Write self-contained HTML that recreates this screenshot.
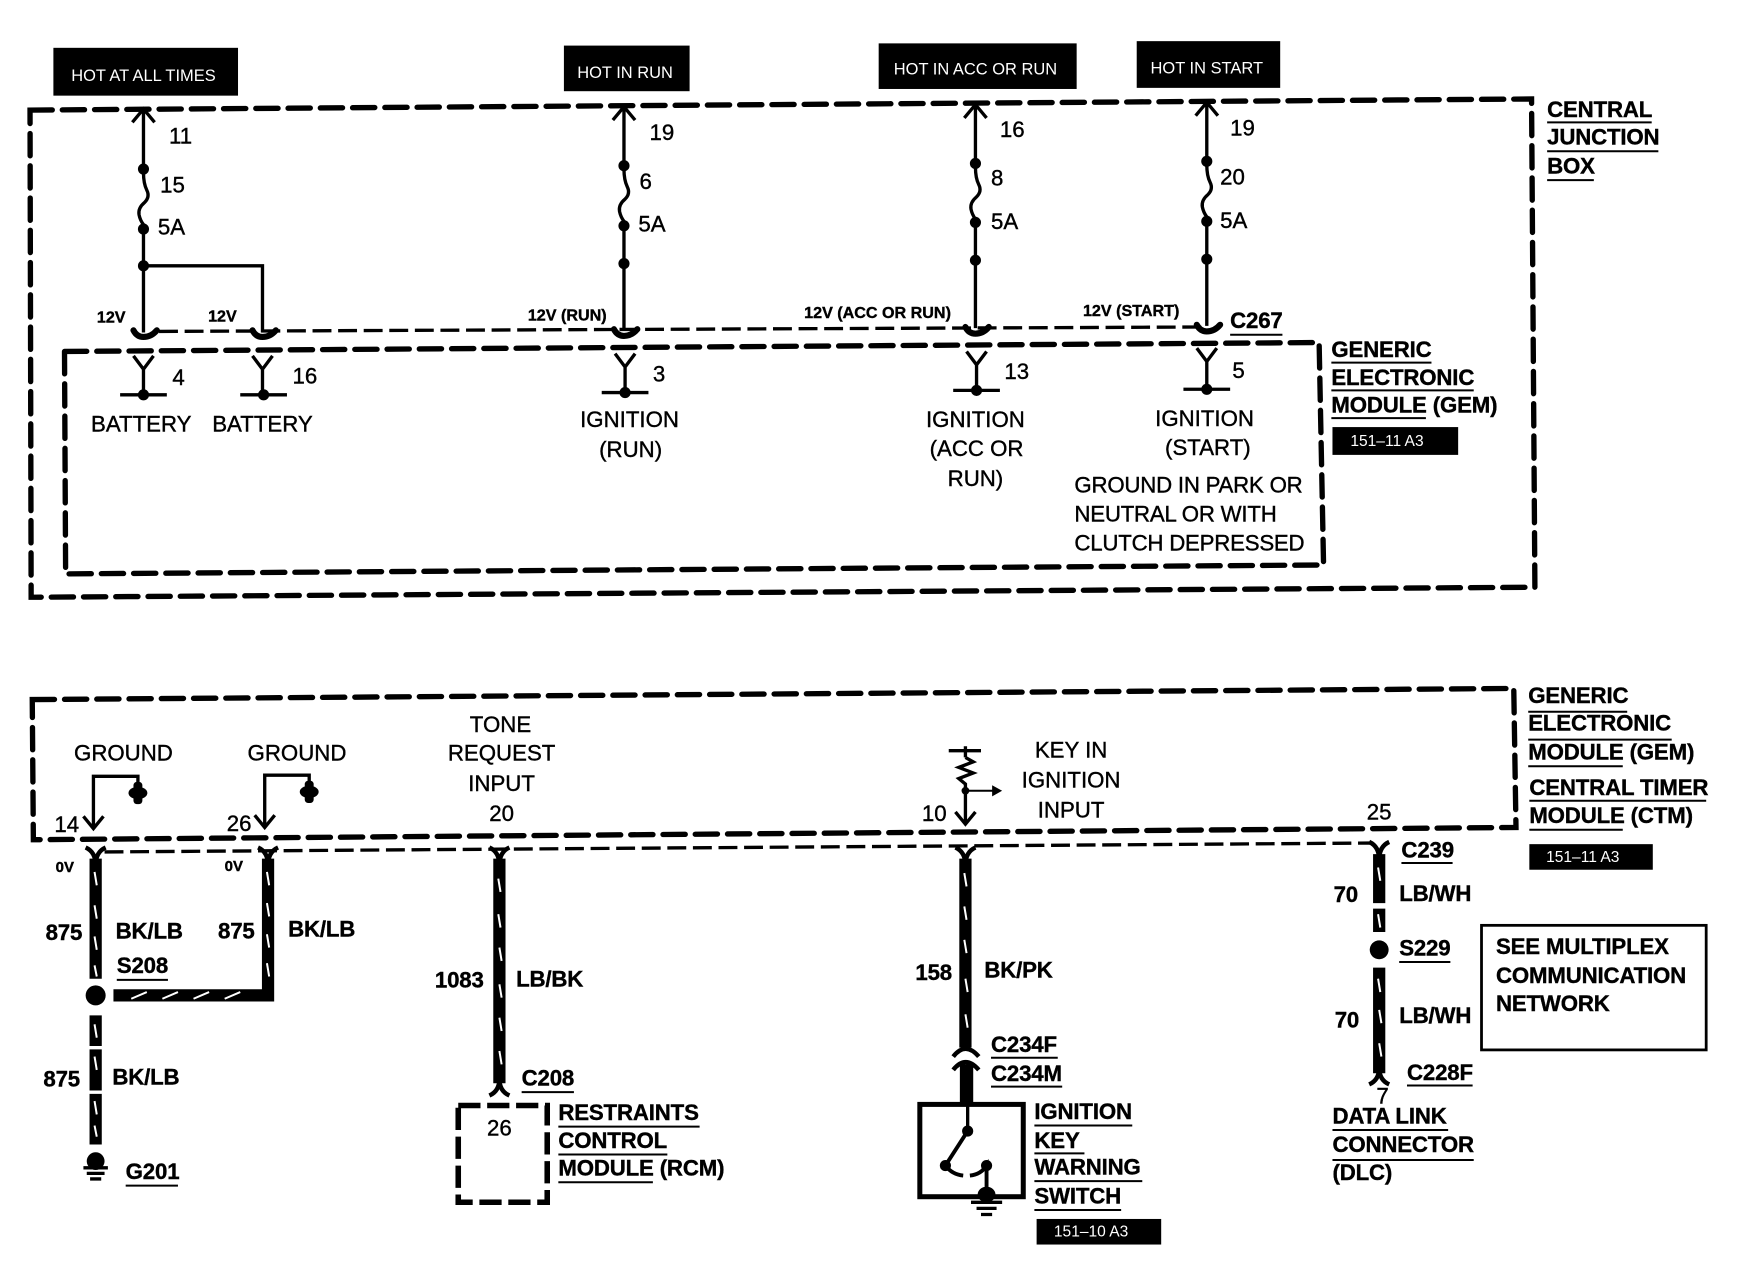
<!DOCTYPE html>
<html><head><meta charset="utf-8"><style>
html,body{margin:0;padding:0;background:#fff}
svg{display:block}
text{font-family:"Liberation Sans",sans-serif;font-size:20px;fill:#000;stroke:#000;stroke-width:.35}
.c{text-anchor:middle}
.b{font-weight:bold;letter-spacing:-.15px}
.s{font-weight:bold;font-size:14.5px;text-anchor:middle}
.w{fill:#fff;stroke:none;font-size:14.8px;text-anchor:middle}
.d{fill:none;stroke:#000;stroke-width:4.8;stroke-dasharray:20 9;stroke-linecap:round}
.t{fill:none;stroke:#000;stroke-width:3;stroke-dasharray:17 6}
.l{fill:none;stroke:#000;stroke-width:3}
.u{fill:none;stroke:#000;stroke-width:1.8}
.k{fill:none;stroke:#000;stroke-width:11}
.h{fill:none;stroke:#fff;stroke-width:1.8}
.f{fill:none;stroke:#000;stroke-width:4}
.p{fill:none;stroke:#000;stroke-width:5.5;stroke-linecap:round}
</style></head><body>
<svg xmlns="http://www.w3.org/2000/svg" width="1744" height="1264" viewBox="0 0 1568 1136.5" preserveAspectRatio="none">
<rect width="1568" height="1137" fill="#fff"/>

<!-- Black header labels -->
<rect x="48" y="43" width="166" height="43"/><text class="w" x="129" y="73">HOT AT ALL TIMES</text>
<rect x="507" y="41" width="113" height="41"/><text class="w" x="562" y="70">HOT IN RUN</text>
<rect x="790" y="39" width="178" height="41"/><text class="w" x="877" y="67">HOT IN ACC OR RUN</text>
<rect x="1022" y="37" width="129" height="42"/><text class="w" x="1085" y="66">HOT IN START</text>

<!-- Central junction box -->
<path class="d" d="M27 99 L1377 89 L1380 528 L28 537 Z"/>
<!-- GEM box -->
<path class="d" d="M58 316 L1186 308 L1190 508 L59 516 Z"/>
<!-- 12V thin dashed -->
<path class="t" d="M143 298 L1085 294"/>

<!-- Column 1 -->
<path class="l" d="M129 98 V299 M119 110 L129 98 L139 110"/>
<path class="l" d="M129 239 H236 V299"/>
<g fill="#000"><circle cx="129" cy="152" r="5"/><circle cx="129" cy="206" r="5"/><circle cx="129" cy="239" r="5"/></g>
<path fill="#fff" stroke="#fff" stroke-width="4" d="M129 157 V201"/>
<path class="l" d="M129 155 Q129 165 132 171 Q135 177 130 182 Q124 187 125 193 Q126 198 129 202"/>
<path class="p" d="M120 297 Q123 303 129 303 Q136 303 141 297 M227 297 Q230 303 236 303 Q243 303 248 297"/>
<path class="l" d="M120 320 L129 332 L138 320 M129 332 V355 M108 355 H150 M227 320 L236 332 L245 320 M236 332 V355 M216 355 H258"/>
<circle cx="129" cy="355" r="5"/><circle cx="237" cy="355" r="5"/>
<text x="152" y="129">11</text><text x="144" y="173">15</text><text x="142" y="211">5A</text>
<text class="s" x="100" y="290">12V</text><text class="s" x="200" y="289">12V</text>
<text x="155" y="346">4</text><text x="263" y="345">16</text>
<text class="c" x="127" y="388">BATTERY</text><text class="c" x="236" y="388">BATTERY</text>

<!-- Column 2 -->
<path class="l" d="M561 96 V297 M551 108 L561 96 L571 108"/>
<g fill="#000"><circle cx="561" cy="149" r="5"/><circle cx="561" cy="203" r="5"/><circle cx="561" cy="237" r="5"/></g>
<path fill="#fff" stroke="#fff" stroke-width="4" d="M561 154 V198"/>
<path class="l" d="M561 152 Q561 162 564 168 Q567 174 562 179 Q556 184 557 190 Q558 195 561 199"/>
<path class="p" d="M552 296 Q555 302 561 302 Q568 302 573 296"/>
<path class="l" d="M553 318 L562 330 L571 318 M562 330 V352 M541 353 H583"/><circle cx="562" cy="353" r="5"/>
<text x="584" y="126">19</text><text x="575" y="170">6</text><text x="574" y="208">5A</text>
<text class="s" x="510" y="288">12V (RUN)</text>
<text x="587" y="343">3</text>
<text class="c" x="566" y="384">IGNITION</text><text class="c" x="567" y="411">(RUN)</text>

<!-- Column 3 -->
<path class="l" d="M877 94 V295 M867 106 L877 94 L887 106"/>
<g fill="#000"><circle cx="877" cy="147" r="5"/><circle cx="877" cy="200" r="5"/><circle cx="877" cy="234" r="5"/></g>
<path fill="#fff" stroke="#fff" stroke-width="4" d="M877 152 V195"/>
<path class="l" d="M877 150 Q877 160 880 166 Q883 172 878 177 Q872 182 873 188 Q874 193 877 197"/>
<path class="p" d="M868 294 Q871 300 877 300 Q884 300 889 294"/>
<path class="l" d="M869 316 L878 328 L887 316 M878 328 V351 M857 351 H899"/><circle cx="878" cy="351" r="5"/>
<text x="899" y="123">16</text><text x="891" y="167">8</text><text x="891" y="206">5A</text>
<text class="s" x="789" y="286">12V (ACC OR RUN)</text>
<text x="903" y="341">13</text>
<text class="c" x="877" y="384">IGNITION</text><text class="c" x="878" y="410">(ACC OR</text><text class="c" x="877" y="437">RUN)</text>

<!-- Column 4 -->
<path class="l" d="M1085 92 V293 M1075 104 L1085 92 L1095 104"/>
<g fill="#000"><circle cx="1085" cy="145" r="5"/><circle cx="1085" cy="199" r="5"/><circle cx="1085" cy="233" r="5"/></g>
<path fill="#fff" stroke="#fff" stroke-width="4" d="M1085 150 V194"/>
<path class="l" d="M1085 148 Q1085 158 1088 164 Q1091 170 1086 175 Q1080 180 1081 186 Q1082 191 1085 195"/>
<path class="p" d="M1076 292 Q1079 298 1085 298 Q1092 298 1097 292"/>
<path class="l" d="M1076 313 L1085 325 L1094 313 M1085 325 V350 M1064 350 H1106"/><circle cx="1085" cy="350" r="5"/>
<text x="1106" y="122">19</text><text x="1097" y="166">20</text><text x="1097" y="205">5A</text>
<text class="s" x="1017" y="284">12V (START)</text>
<text class="b" x="1106" y="295">C267</text><path class="u" d="M1106 301 H1153"/>
<text x="1108" y="340">5</text>
<text class="c" x="1083" y="383">IGNITION</text><text class="c" x="1086" y="409">(START)</text>
<g style="letter-spacing:-.2px"><text x="966" y="443">GROUND IN PARK OR</text><text x="966" y="469">NEUTRAL OR WITH</text><text x="966" y="495">CLUTCH DEPRESSED</text></g>

<!-- Right labels top -->
<text class="b" x="1391" y="105">CENTRAL</text><path class="u" d="M1391 110 H1485"/>
<text class="b" x="1391" y="130">JUNCTION</text><path class="u" d="M1391 136 H1491"/>
<text class="b" x="1391" y="156">BOX</text><path class="u" d="M1391 162 H1433"/>
<text class="b" x="1197" y="321">GENERIC</text><path class="u" d="M1197 326 H1287"/>
<text class="b" x="1197" y="346">ELECTRONIC</text><path class="u" d="M1197 351 H1325"/>
<text class="b" x="1197" y="371">MODULE (GEM)</text><path class="u" d="M1197 376 H1282"/>
<rect x="1198" y="384" width="113" height="25"/><text class="w" x="1247" y="401" style="font-size:14px">151–11 A3</text>

<!-- Bottom GEM box -->
<path class="d" d="M29 629 L1361 619 L1363 744 L30 755 Z"/>
<path class="t" d="M94 766 L1232 758"/>

<!-- Ground brackets -->
<text class="c" x="111" y="684">GROUND</text><text class="c" x="267" y="684">GROUND</text>
<path class="l" d="M84 744 V698 H124 V708 M238 743 V697 H278 V707 M75 734 L84 745 L93 734 M229 733 L238 744 L247 733"/>
<rect x="120" y="703" width="8" height="20" rx="3"/><ellipse cx="124" cy="713" rx="8.5" ry="5.5"/>
<rect x="274" y="702" width="8" height="20" rx="3"/><ellipse cx="278" cy="712" rx="8.5" ry="5.5"/>
<text class="c" x="60" y="748">14</text><text class="c" x="215" y="747">26</text>
<text class="c" x="450" y="658">TONE</text><text class="c" x="451" y="684">REQUEST</text><text class="c" x="451" y="711">INPUT</text><text class="c" x="451" y="738">20</text>

<!-- Key in symbol -->
<path class="l" d="M853 675 H882 M868 671 V681 M868 681 L875 685 L862 690 L875 695 L862 700 L868 705 V740 M859 730 L868 741 L877 730"/>
<path class="u" d="M868 711 H896"/><path d="M892 706 L901 711 L892 716 Z"/><circle cx="868" cy="711" r="3.5"/>
<text class="c" x="963" y="681">KEY IN</text><text class="c" x="963" y="708">IGNITION</text><text class="c" x="963" y="735">INPUT</text>
<text class="c" x="840" y="738">10</text><text class="c" x="1240" y="737">25</text>

<!-- Wire 1 -->
<path class="k" d="M86 772 V880 M86 913 V1029"/>
<path class="f" d="M77 762 Q86 766 86 778 Q86 766 95 762"/>
<circle cx="86" cy="895" r="9"/>
<path class="h" d="M85 784 L87 796 M85 814 L87 826 M85 842 L87 854 M85 868 L87 878 M85 921 L87 933 M85 950 L87 962 M85 990 L87 1002 M85 1012 L87 1022"/>
<path stroke="#fff" stroke-width="3" d="M80 942 H92 M80 982 H92"/>
<ellipse cx="86" cy="1044" rx="8" ry="8"/>
<path class="l" d="M75 1050 H97 M78 1055 H94 M81 1060 H91"/>
<text x="50" y="784" style="font-size:13.5px;font-weight:bold">0V</text>
<text x="41" y="845" class="b">875</text><text class="b" x="104" y="844">BK/LB</text>
<text class="b" x="105" y="875">S208</text><path class="u" d="M105 881 H151"/>
<text class="b" x="39" y="977">875</text><text class="b" x="101" y="975">BK/LB</text>
<text class="b" x="113" y="1060">G201</text><path class="u" d="M113 1066 H160"/>

<!-- Wire 2 -->
<path class="k" d="M241 772 V895 H102"/>
<path class="f" d="M232 762 Q241 766 241 778 Q241 766 250 762"/>
<path class="h" d="M240 784 L242 796 M240 812 L242 824 M240 840 L242 852 M240 866 L242 878 M118 898 L132 892 M146 898 L160 892 M174 898 L188 892 M202 898 L216 892"/>
<text x="202" y="783" style="font-size:13.5px;font-weight:bold">0V</text>
<text class="b" x="196" y="844">875</text><text class="b" x="259" y="842">BK/LB</text>

<!-- Wire 3 -->
<path class="k" d="M449 772 V974"/>
<path class="f" d="M440 762 Q449 766 449 778 Q449 766 458 762 M440 985 Q449 981 449 970 Q449 981 458 985"/>
<path class="h" d="M448 790 L450 802 M448 822 L450 834 M449 852 L451 864 M449 885 L451 897 M449 915 L451 927 M449 945 L451 957"/>
<text class="b" x="391" y="888">1083</text><text class="b" x="464" y="887">LB/BK</text>
<text class="b" x="469" y="976">C208</text><path class="u" d="M469 982 H516"/>
<path fill="none" stroke="#000" stroke-width="5" stroke-dasharray="20 6" d="M412 994 H492 V1081 H412 Z"/>
<text class="c" x="449" y="1021">26</text>
<text class="b" x="502" y="1007">RESTRAINTS</text><path class="u" d="M502 1013 H629"/>
<text class="b" x="502" y="1032">CONTROL</text><path class="u" d="M502 1038 H600"/>
<text class="b" x="502" y="1057">MODULE (RCM)</text><path class="u" d="M502 1063 H587"/>

<!-- Wire 4 -->
<path class="k" d="M868 772 V942"/>
<path fill="none" stroke="#000" stroke-width="12" d="M869 957 V992"/>
<path class="f" d="M859 762 Q868 766 868 778 Q868 766 877 762"/>
<path fill="none" stroke="#000" stroke-width="4" d="M857 950 Q868 936 880 950 M857 962 Q868 948 880 962"/>
<path class="h" d="M867 785 L869 797 M867 815 L869 827 M867 845 L869 857 M868 880 L870 892 M868 912 L870 924"/>
<text class="b" x="823" y="881">158</text><text class="b" x="885" y="879">BK/PK</text>
<text class="b" x="891" y="946">C234F</text><path class="u" d="M891 951 H951"/>
<text class="b" x="891" y="972">C234M</text><path class="u" d="M891 977 H955"/>
<rect x="827" y="993" width="93" height="83" fill="none" stroke="#000" stroke-width="4.5"/>
<path class="l" d="M870 992 V1017"/>
<path fill="none" stroke="#000" stroke-width="3.5" d="M870 1017 L850 1048 Q856 1056 866 1057 M872 1057 Q882 1056 887 1048 V1068"/>
<circle cx="870" cy="1017" r="5"/><circle cx="850" cy="1048" r="5"/><circle cx="887" cy="1048" r="5"/>
<ellipse cx="887" cy="1074" rx="8" ry="7"/>
<path class="l" d="M873 1081 H901 M878 1086.500 H896 M882 1092 H892"/>
<text class="b" x="930" y="1006">IGNITION</text><path class="u" d="M930 1012 H1018"/>
<text class="b" x="930" y="1032">KEY</text><path class="u" d="M930 1037 H975"/>
<text class="b" x="930" y="1056">WARNING</text><path class="u" d="M930 1062 H1027"/>
<text class="b" x="930" y="1082">SWITCH</text><path class="u" d="M930 1088 H1008"/>
<rect x="932" y="1096" width="112" height="23"/><text class="w" x="981" y="1112" style="font-size:14px">151–10 A3</text>

<!-- Wire 5 -->
<path class="k" d="M1240 768 V812 M1240 817 V838 M1240 870 V965"/>
<path class="f" d="M1231 757 Q1240 761 1240 773 Q1240 761 1249 757 M1231 975 Q1240 971 1240 960 Q1240 971 1249 975"/>
<circle cx="1240" cy="854" r="8.5"/>
<path class="h" d="M1239 780 L1241 792 M1239 822 L1241 834 M1239 880 L1241 892 M1240 908 L1242 920 M1240 938 L1242 950"/>
<text class="b" x="1260" y="771">C239</text><path class="u" d="M1260 776 H1306"/>
<text class="b" x="1199" y="811">70</text><text class="b" x="1258" y="810">LB/WH</text>
<text class="b" x="1258" y="859">S229</text><path class="u" d="M1258 865 H1304"/>
<text class="b" x="1200" y="924">70</text><text class="b" x="1258" y="920">LB/WH</text>
<text class="b" x="1265" y="971">C228F</text><path class="u" d="M1265 976 H1324"/>
<text class="c" x="1243" y="992">7</text>
<text class="b" x="1198" y="1010">DATA LINK</text><path class="u" d="M1198 1016 H1302"/>
<text class="b" x="1198" y="1036">CONNECTOR</text><path class="u" d="M1198 1043 H1325"/>
<text class="b" x="1198" y="1061">(DLC)</text>

<rect x="1332" y="832" width="202" height="112" fill="none" stroke="#000" stroke-width="2.5"/>
<text class="b" x="1345" y="858">SEE MULTIPLEX</text>
<text class="b" x="1345" y="884">COMMUNICATION</text>
<text class="b" x="1345" y="909">NETWORK</text>

<!-- Right labels bottom -->
<text class="b" x="1374" y="632">GENERIC</text><path class="u" d="M1374 640 H1463"/>
<text class="b" x="1374" y="657">ELECTRONIC</text><path class="u" d="M1374 665 H1503"/>
<text class="b" x="1374" y="683">MODULE (GEM)</text><path class="u" d="M1374 689 H1459"/>
<text class="b" x="1375" y="715">CENTRAL TIMER</text><path class="u" d="M1375 720 H1534"/>
<text class="b" x="1375" y="740">MODULE (CTM)</text><path class="u" d="M1375 746 H1459"/>
<rect x="1375" y="759" width="111" height="23"/><text class="w" x="1423" y="775" style="font-size:14px">151–11 A3</text>
</svg>
</body></html>
